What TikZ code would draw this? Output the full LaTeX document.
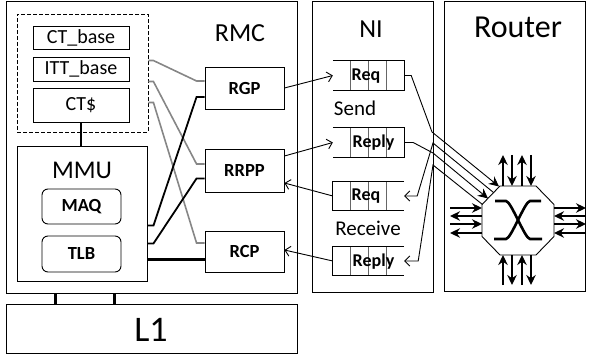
\documentclass[tikz,border=0pt]{standalone}
\usepackage{fontspec}
\setmainfont{Carlito}
\usetikzlibrary{arrows.meta,calc}
\begin{document}
\begin{tikzpicture}[x=1pt,y=-1pt,
  box/.style={draw, line width=0.9pt, inner sep=0pt, font=\fontsize{20}{20}\selectfont},
  bbox/.style={draw, line width=0.9pt, inner sep=0pt, font=\fontsize{18.5}{18.5}\selectfont\bfseries},
  frame/.style={draw, line width=0.9pt, inner sep=0pt},
  title/.style={inner sep=0pt, font=\fontsize{26}{26}\selectfont},
  mid/.style={inner sep=0pt, font=\fontsize{21}{21}\selectfont},
  qtext/.style={inner sep=0pt, font=\fontsize{18}{18}\selectfont\bfseries},
  queue/.style={inner sep=0pt, minimum width=71pt, minimum height=29pt},
  qline/.style={line width=0.9pt},
  qdiv/.style={draw=gray!80!black, line width=0.7pt},
  gline/.style={draw=gray!95, line width=1.6pt},
  kline/.style={line width=1.8pt},
  tline/.style={line width=3pt},
  barb/.style={-{Straight Barb[length=5pt,width=10pt]}, line width=0.9pt},
  rarr/.style={-{Stealth[length=10pt,width=9.5pt]}, line width=1.3pt},
]
\useasboundingbox (0,0) rectangle (589,358);

% outer frames
\node[frame, minimum width=291pt, minimum height=292pt] (rmc) at (151.5,147) {};
\node[frame, minimum width=121pt, minimum height=291pt] (ni) at (372.5,146.5) {};
\node[frame, minimum width=141pt, minimum height=290pt] (router) at (514.5,146) {};
\node[frame, minimum width=291pt, minimum height=49pt] (l1) at (151.5,328.5) {};

\node[title] (rmct) at (240,33) {RMC};
\node[title] (nit) at (371,29) {NI};
\node[inner sep=0pt, font=\fontsize{32}{32}\selectfont] (routert) at (518,27) {Router};
\node[inner sep=0pt, font=\fontsize{36}{36}\selectfont] (l1t) at (151,330) {L1};

% dashed register group
\node[draw, dash pattern=on 4pt off 2pt, line width=0.9pt, minimum width=131pt, minimum height=118pt] (dash) at (82.5,73) {};
\node[box, minimum width=96pt, minimum height=23pt] (ctb) at (81,37.5) {CT\_base};
\node[box, minimum width=96pt, minimum height=24pt] (ittb) at (81,69) {ITT\_base};
\node[box, minimum width=96pt, minimum height=34pt] (ctd) at (81,105) {CT\$};

% MMU
\node[frame, minimum width=130pt, minimum height=135pt] (mmu) at (82,213.5) {};
\node[inner sep=0pt, font=\fontsize{25.5}{25.5}\selectfont] (mmut) at (82,170) {MMU};
\node[bbox, rounded corners=6pt, minimum width=79pt, minimum height=35pt] (maq) at (81.5,206.5) {MAQ};
\node[bbox, rounded corners=6pt, minimum width=79pt, minimum height=36pt] (tlb) at (81.5,254) {TLB};

% RMC units
\node[bbox, minimum width=79pt, minimum height=42pt] (rgp) at (244.5,88) {RGP};
\node[bbox, minimum width=79pt, minimum height=43pt] (rrpp) at (244.5,170.5) {RRPP};
\node[bbox, minimum width=79pt, minimum height=41pt] (rcp) at (244.5,251.5) {RCP};

% NI queues
\node[queue] (sreq) at (368.5,75.5) {};
\node[queue] (srep) at (368.5,142.5) {};
\node[queue] (rreq) at (368.5,196) {};
\node[queue] (rrep) at (368.5,261) {};
\foreach \q in {sreq,srep,rreq,rrep}{
  \foreach \d in {18,36,54}
    \draw[qdiv] ([xshift=\d pt]\q.north west) -- ([xshift=\d pt]\q.south west);
}
\draw[qline] (sreq.north west) -- (sreq.north east) -- (sreq.south east) -- (sreq.south west);
\draw[qline] (srep.north west) -- (srep.north east) -- (srep.south east) -- (srep.south west);
\draw[qline] (rreq.north east) -- (rreq.north west) -- (rreq.south west) -- (rreq.south east);
\draw[qline] (rrep.north east) -- (rrep.north west) -- (rrep.south west) -- (rrep.south east);
\node[qtext] at (366,76) {Req};
\node[qtext] at (373.5,143) {Reply};
\node[qtext] at (366,196.5) {Req};
\node[qtext] at (373.5,261.5) {Reply};
\node[mid] (sendt) at (355,108) {Send};
\node[mid] (recvt) at (368,228) {Receive};

% CT$ to MMU
\draw[line width=1.4pt] (ctd.south) -- (mmu.north -| ctd.south);

% L1 connectors
\draw[tline] ([xshift=50pt]l1.north west) -- ([xshift=50pt]rmc.south west);
\draw[tline] ([xshift=109pt]l1.north west) -- ([xshift=109pt]rmc.south west);

% gray lines from register group
\draw[gline] ([yshift=-47pt]dash.north east) -- ++(5,0) -- ([xshift=-8pt,yshift=7pt]rgp.west) -- ([yshift=7pt]rgp.west);
\draw[gline] ([yshift=-68pt]dash.north east) -- ++(5,0) -- ([xshift=-8pt,yshift=6.5pt]rrpp.west) -- ([yshift=6.5pt]rrpp.west);
\draw[gline] ([yshift=-89pt]dash.north east) -- ++(5,0) -- ([xshift=-8pt,yshift=8.5pt]rcp.west) -- ([yshift=8.5pt]rcp.west);

% black lines from MMU
\draw[kline] ([yshift=-80pt]mmu.north east) -- ++(6,0) -- ([xshift=-8pt,yshift=-9pt]rgp.west) -- ([yshift=-9pt]rgp.west);
\draw[kline] ([yshift=-98pt]mmu.north east) -- ++(6,0) -- ([xshift=-8pt,yshift=-8pt]rrpp.west) -- ([yshift=-8pt]rrpp.west);
\coordinate (t1) at ($(rcp.west)+(0,7.5)$);
\draw[tline] (mmu.east |- t1) -- (t1);

% RMC <-> NI arrows
\draw[barb] (rgp.east) -- (sreq.west);
\draw[barb] ([yshift=14.5pt]rrpp.east) -- (srep.west);
\draw[barb] (rreq.west) -- ([yshift=-12.5pt]rrpp.east);
\draw[barb] (rrep.west) -- ([yshift=1.5pt]rcp.east);

% router crossbar
\coordinate (oct) at (518,220.5);
\draw[line width=0.9pt] (500,186) -- (536,186) -- (554,204.5) -- (554,236.5) -- (536,255) -- (500,255) -- (482,236.5) -- (482,204.5) -- cycle;
\draw[line width=2.6pt] (495,201) -- (506,201) .. controls (511,201) and (525,239) .. (530,239) -- (542,239);
\draw[line width=2.6pt] (541,201) -- (530,201) .. controls (525,201) and (511,239) .. (506,239) -- (494,239);

% port arrows
\foreach \x in {503,522}{
  \draw[rarr] (\x,186) -- (\x,155);
  \draw[rarr] (\x,285) -- (\x,255);
}
\foreach \x in {512,531}{
  \draw[rarr] (\x,155) -- (\x,186);
  \draw[rarr] (\x,255) -- (\x,285);
}
\foreach \y in {208,224}{
  \draw[rarr] (450,\y) -- (482,\y);
  \draw[rarr] (554,\y) -- (586,\y);
}
\foreach \y in {216,233}{
  \draw[rarr] (482,\y) -- (450,\y);
  \draw[rarr] (586,\y) -- (554,\y);
}

% NI <-> router links
\coordinate (j1) at (432,132);
\coordinate (j2) at (433,143);
\coordinate (j3) at (433,153);
\coordinate (j4) at (433,165);
\coordinate (o1) at (499,186.5);
\coordinate (o2) at (493.5,192.5);
\coordinate (o3) at (488,198.5);
\coordinate (o4) at (482.5,204.5);
\draw[rarr, line width=0.9pt] (sreq.east) -- ++(7,0) -- (j1) -- (o1);
\draw[rarr, line width=0.9pt] (srep.east) -- ++(9,0) -- (j3) -- (o3);
\draw[barb] (o2) -- (j2) -- ($(rreq.east)+(13,0)$) -- (rreq.east);
\draw[barb] (o4) -- (j4) -- ($(rrep.east)+(14,0)$) -- (rrep.east);
\end{tikzpicture}
\end{document}
